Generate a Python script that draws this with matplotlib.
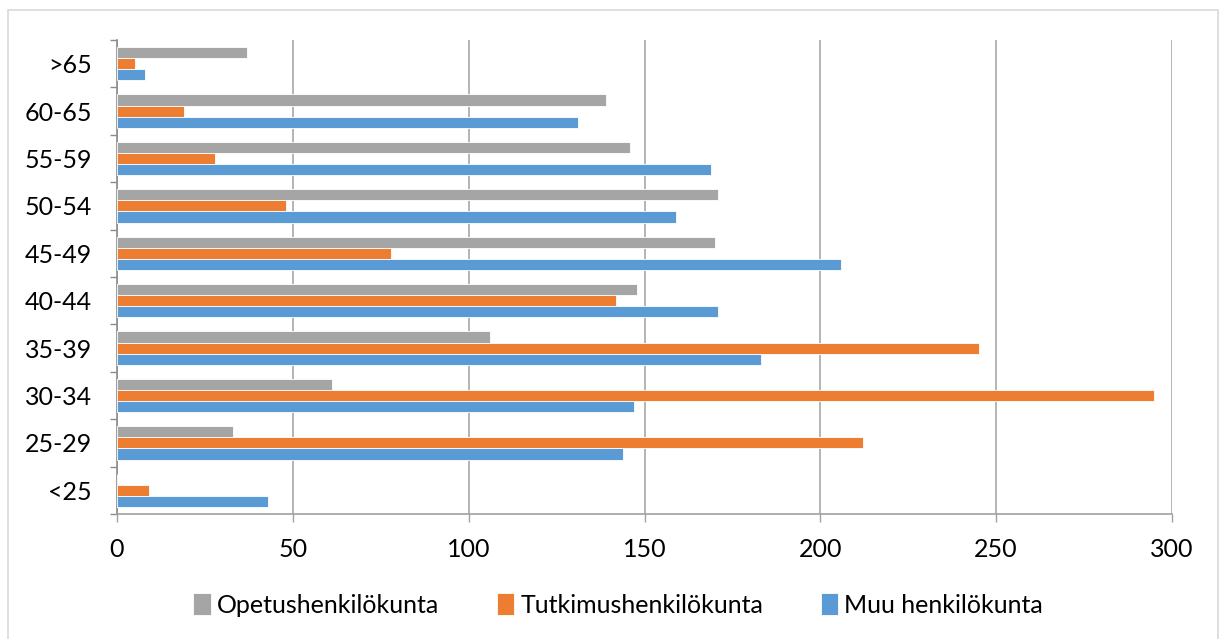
import numpy as np
import matplotlib
matplotlib.use('Agg')
import matplotlib.pyplot as plt
from matplotlib.patches import Rectangle

plt.rcParams['font.family'] = ['Lato', 'DejaVu Sans']

# age groups, bottom to top
ages = ['<25', '25-29', '30-34', '35-39', '40-44', '45-49', '50-54', '55-59', '60-65', '>65']
opetus = [0, 33, 61, 106, 148, 170, 171, 146, 139, 37]
tutkimus = [9, 212, 295, 245, 142, 78, 48, 28, 19, 5]
muu = [43, 144, 147, 183, 171, 206, 159, 169, 131, 8]

c_gray = '#A5A5A5'
c_orange = '#ED7D31'
c_blue = '#5B9BD5'

fig = plt.figure(figsize=(12.24, 6.39), dpi=100)
ax = fig.add_axes([117/1224, 1-514/639, (1172-117)/1224, (514-40)/639])

y = np.arange(len(ages))
h = 0.235
ax.barh(y + h, opetus, height=h, color=c_gray, edgecolor='white', linewidth=0.6,
        label='Opetushenkilökunta', zorder=3)
ax.barh(y, tutkimus, height=h, color=c_orange, edgecolor='white', linewidth=0.6,
        label='Tutkimushenkilökunta', zorder=3)
ax.barh(y - h, muu, height=h, color=c_blue, edgecolor='white', linewidth=0.6,
        label='Muu henkilökunta', zorder=3)

ax.set_xlim(0, 300)
ax.set_ylim(-0.5, len(ages) - 0.5)
ax.set_xticks(np.arange(0, 301, 50))
ax.xaxis.grid(True, color='#A0A0A0', linewidth=1.1, zorder=0)

# category labels centred, tick marks on the boundaries
ax.set_yticks(y)
ax.set_yticklabels(ages)
ax.set_yticks(np.arange(-0.5, len(ages), 1), minor=True)
ax.tick_params(axis='y', which='major', length=0, pad=18, labelsize=18)
ax.tick_params(axis='y', which='minor', length=5, color='#8C8C8C', width=1)
ax.tick_params(axis='x', length=6, color='#A0A0A0', width=1, pad=11, labelsize=18)

for s in ['top', 'right']:
    ax.spines[s].set_visible(False)
ax.spines['left'].set_color('#8C8C8C')
ax.spines['left'].set_linewidth(1.2)
ax.spines['bottom'].set_color('#A0A0A0')
ax.spines['bottom'].set_linewidth(1.2)

handles, labels = ax.get_legend_handles_labels()
fig.legend(handles, labels, loc='center', bbox_to_anchor=(0.505, 1-605/639), ncol=3,
           frameon=False, fontsize=18, handlelength=0.7, handleheight=0.95,
           handletextpad=0.25, columnspacing=2.3)

fig.patches.append(Rectangle((8/1224, -0.02), (1218-8)/1224, 1.02-10/639,
                             transform=fig.transFigure, fill=False,
                             edgecolor='#D9D9D9', linewidth=1.2))

fig.savefig('out.png', dpi=100, facecolor='white')
